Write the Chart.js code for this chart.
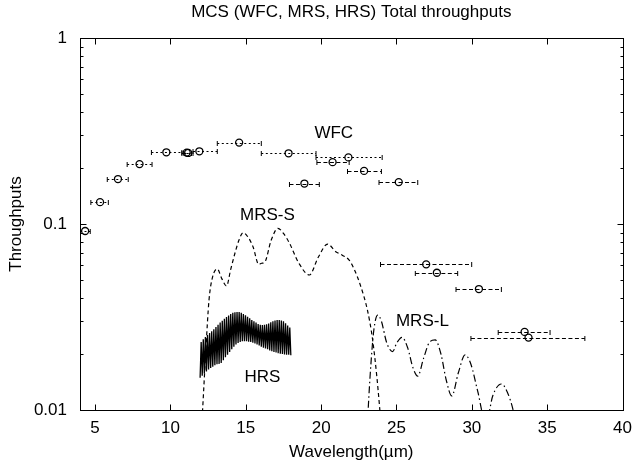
<!DOCTYPE html>
<html><head><meta charset="utf-8">
<script src="https://cdn.jsdelivr.net/npm/chart.js@4/dist/chart.umd.min.js"></script>
<style>html,body{margin:0;padding:0;background:#fff}canvas{display:block}</style>
</head><body>
<canvas id="c" width="640" height="467"></canvas>
<script>
// ---------- axis ticks ----------
const xTickValues = [5, 10, 15, 20, 25, 30, 35, 40];
const yMajorTicks = [0.01, 0.1, 1];
const yTickLabels = ['0.01', '0.1', '1'];
const yMinorTicks = [0.02,0.03,0.04,0.05,0.06,0.07,0.08,0.09,0.2,0.3,0.4,0.5,0.6,0.7,0.8,0.9];

// ---------- WFC (dotted error bars) ----------
const wfcDotWave = [4.34, 5.33, 6.52, 7.95, 9.73, 11.08, 11.18, 11.92, 14.56, 17.84, 21.81];
const wfcDotThru = [0.0917, 0.131, 0.1745, 0.210, 0.243, 0.242, 0.241, 0.246, 0.274, 0.240, 0.228];
const wfcDotLow  = [4.0, 4.72, 5.81, 7.13, 8.74, 10.76, 10.9, 11.5, 13.11, 16.03, 19.66];
const wfcDotHigh = [4.68, 5.88, 7.20, 8.78, 10.76, 11.4, 11.5, 13.11, 16.03, 19.66, 24.05];

// ---------- WFC (dashed error bars) ----------
const wfcDashWave = [20.76, 22.85, 25.15, 18.89, 26.97, 27.68, 30.47, 33.5, 33.76];
const wfcDashThru = [0.215, 0.193, 0.168, 0.165, 0.0607, 0.0547, 0.0447, 0.0263, 0.0245];
const wfcDashLow  = [19.72, 21.75, 23.84, 17.9, 23.94, 26.25, 28.95, 31.75, 29.94];
const wfcDashHigh = [21.86, 24.0, 26.41, 19.88, 29.99, 29.06, 31.96, 35.19, 37.5];

// ---------- MRS-S ----------
const mrsSWave = [12.05, 12.2, 12.35, 12.56, 12.8, 13.11, 13.4, 13.72, 14.0, 14.28, 14.55, 14.82, 15.15, 15.48, 15.86, 16.05, 16.25, 16.69, 17.13, 17.5, 17.9, 18.5, 19.22, 19.8, 20.43, 20.97, 21.4, 21.86, 22.2, 22.6, 23.07, 23.4, 23.7, 24.0];
const mrsSThru = [0.0075, 0.0125, 0.021, 0.039, 0.052, 0.0573, 0.051, 0.0464, 0.057, 0.0696, 0.082, 0.0898, 0.085, 0.0755, 0.0607, 0.0615, 0.0622, 0.082, 0.0948, 0.089, 0.0788, 0.062, 0.0532, 0.066, 0.078, 0.071, 0.068, 0.064, 0.057, 0.047, 0.0345, 0.0244, 0.015, 0.008];

// ---------- MRS-L ----------
const mrsLWave = [23.0, 23.12, 23.3, 23.5, 23.75, 24.0, 24.35, 24.75, 25.0, 25.37, 25.75, 26.1, 26.41, 26.8, 27.2, 27.57, 27.95, 28.3, 28.67, 29.1, 29.55, 29.95, 30.4, 30.93, 31.4, 31.96, 32.35, 32.75, 32.9];
const mrsLThru = [0.006, 0.0100, 0.0175, 0.027, 0.0324, 0.030, 0.023, 0.0206, 0.0228, 0.0246, 0.0215, 0.0168, 0.0152, 0.019, 0.0232, 0.0238, 0.020, 0.0145, 0.0119, 0.0158, 0.0198, 0.0175, 0.0125, 0.0085, 0.012, 0.0138, 0.0125, 0.0099, 0.0085];

// ---------- HRS (fringed) ----------
const hrsWave = [11.97,12.04,12.11,12.18,12.25,12.32,12.39,12.46,12.53,12.60,12.67,12.74,12.81,12.88,12.95,13.02,13.09,13.16,13.23,13.30,13.37,13.44,13.51,13.58,13.65,13.72,13.79,13.86,13.93,14.00,14.07,14.14,14.21,14.28,14.35,14.42,14.49,14.56,14.63,14.70,14.77,14.84,14.91,14.98,15.05,15.12,15.19,15.26,15.33,15.40,15.47,15.54,15.61,15.68,15.75,15.82,15.89,15.96,16.03,16.10,16.17,16.24,16.31,16.38,16.45,16.52,16.59,16.66,16.73,16.80,16.87,16.94,17.01,17.08,17.15,17.22,17.29,17.36,17.43,17.50,17.57,17.64,17.71,17.78,17.85,17.92,17.99];
const hrsThru = [0.0149,0.0232,0.0153,0.0240,0.0157,0.0247,0.0161,0.0253,0.0165,0.0259,0.0168,0.0265,0.0171,0.0272,0.0174,0.0279,0.0176,0.0287,0.0177,0.0295,0.0179,0.0302,0.0185,0.0309,0.0192,0.0316,0.0198,0.0322,0.0205,0.0328,0.0212,0.0333,0.0219,0.0335,0.0225,0.0336,0.0229,0.0336,0.0232,0.0333,0.0234,0.0328,0.0234,0.0323,0.0234,0.0317,0.0233,0.0311,0.0232,0.0305,0.0230,0.0300,0.0228,0.0295,0.0225,0.0290,0.0222,0.0287,0.0219,0.0286,0.0216,0.0287,0.0214,0.0289,0.0212,0.0292,0.0209,0.0296,0.0207,0.0300,0.0205,0.0303,0.0204,0.0305,0.0202,0.0305,0.0201,0.0303,0.0200,0.0300,0.0199,0.0293,0.0198,0.0285,0.0198,0.0278,0.0197];

// ---------- curve labels ----------
const curveLabelText = ['WFC', 'MRS-S', 'MRS-L', 'HRS'];
const curveLabelWave = [20.84, 16.44, 26.72, 16.11];
const curveLabelThru = [0.307, 0.112, 0.0301, 0.0150];

const FONT = "'Liberation Sans', Arial, Helvetica, sans-serif";
const FS = 17;
Chart.defaults.font.family = FONT;
Chart.defaults.color = '#000';

const pts = (xs, ys) => xs.map((x, i) => ({x: x, y: ys[i]}));
const bars = (xs, ys, lo, hi) => xs.map((x, i) => ({x: x, y: ys[i], xMin: lo[i], xMax: hi[i]}));

const errorBarPlugin = {
  id: 'errorBars',
  beforeDatasetsDraw(chart) {
    const ctx = chart.ctx, xs = chart.scales.x, ys = chart.scales.y, a = chart.chartArea;
    ctx.save();
    ctx.beginPath(); ctx.rect(a.left, a.top, a.right - a.left, a.bottom - a.top); ctx.clip();
    chart.data.datasets.forEach(ds => {
      if (!ds.errorDash) return;
      ds.data.forEach(p => {
        const y = Math.round(ys.getPixelForValue(p.y)) + 0.5;
        const x0 = xs.getPixelForValue(p.xMin), x1 = xs.getPixelForValue(p.xMax);
        ctx.strokeStyle = '#000'; ctx.lineWidth = 1;
        ctx.setLineDash(ds.errorDash);
        ctx.beginPath(); ctx.moveTo(x0, y); ctx.lineTo(x1, y); ctx.stroke();
        ctx.setLineDash([]);
        ctx.beginPath();
        ctx.moveTo(x0, y - 2.5); ctx.lineTo(x0, y + 2.5);
        ctx.moveTo(x1, y - 2.5); ctx.lineTo(x1, y + 2.5);
        ctx.stroke();
      });
    });
    ctx.restore();
  }
};

const framePlugin = {
  id: 'frame',
  afterDatasetsDraw(chart) {
    const ctx = chart.ctx, xs = chart.scales.x, ys = chart.scales.y, a = chart.chartArea;
    ctx.save();
    ctx.strokeStyle = '#000'; ctx.lineWidth = 1; ctx.setLineDash([]);
    const L = Math.round(a.left) + 0.5, R = Math.round(a.right) + 0.5;
    const T = Math.round(a.top) + 0.5, B = Math.round(a.bottom) + 0.5;
    ctx.beginPath();
    xTickValues.forEach(v => {
      const px = Math.round(xs.getPixelForValue(v)) + 0.5;
      ctx.moveTo(px, B); ctx.lineTo(px, B - 6);
      ctx.moveTo(px, T); ctx.lineTo(px, T + 6);
    });
    yMajorTicks.forEach(v => {
      const py = Math.round(ys.getPixelForValue(v)) + 0.5;
      ctx.moveTo(L, py); ctx.lineTo(L + 6, py);
      ctx.moveTo(R, py); ctx.lineTo(R - 6, py);
    });
    yMinorTicks.forEach(v => {
      const py = Math.round(ys.getPixelForValue(v)) + 0.5;
      ctx.moveTo(L, py); ctx.lineTo(L + 3, py);
      ctx.moveTo(R, py); ctx.lineTo(R - 3, py);
    });
    ctx.stroke();
    ctx.strokeRect(L, T, R - L, B - T);
    ctx.fillStyle = '#000';
    ctx.font = FS + 'px ' + FONT;
    ctx.textAlign = 'center'; ctx.textBaseline = 'middle';
    curveLabelText.forEach((t, i) => {
      ctx.fillText(t, xs.getPixelForValue(curveLabelWave[i]), ys.getPixelForValue(curveLabelThru[i]));
    });
    ctx.restore();
  }
};

new Chart(document.getElementById('c'), {
  type: 'line',
  data: {
    datasets: [
      { label: 'HRS', data: pts(hrsWave, hrsThru), borderColor: '#000', borderWidth: 1.3, pointRadius: 0, tension: 0 },
      { label: 'MRS-S', data: pts(mrsSWave, mrsSThru), borderColor: '#000', borderWidth: 1.2, borderDash: [4, 3], pointRadius: 0, cubicInterpolationMode: 'monotone' },
      { label: 'MRS-L', data: pts(mrsLWave, mrsLThru), borderColor: '#000', borderWidth: 1.2, borderDash: [7, 3, 1.5, 3], pointRadius: 0, cubicInterpolationMode: 'monotone' },
      { label: 'WFC', data: bars(wfcDotWave, wfcDotThru, wfcDotLow, wfcDotHigh), showLine: false, errorDash: [2, 2.5],
        pointRadius: 3.5, pointBorderWidth: 1.3, pointBorderColor: '#000', pointBackgroundColor: 'rgba(0,0,0,0)', borderColor: '#000' },
      { label: 'WFC2', data: bars(wfcDashWave, wfcDashThru, wfcDashLow, wfcDashHigh), showLine: false, errorDash: [4, 2.5],
        pointRadius: 3.5, pointBorderWidth: 1.3, pointBorderColor: '#000', pointBackgroundColor: 'rgba(0,0,0,0)', borderColor: '#000' }
    ]
  },
  options: {
    responsive: false,
    animation: false,
    devicePixelRatio: 1,
    layout: { padding: { left: 0, right: 13, top: 0, bottom: 0 } },
    plugins: {
      legend: { display: false },
      tooltip: { enabled: false },
      title: { display: true, text: 'MCS (WFC, MRS, HRS) Total throughputs', fullSize: false,
               font: { size: FS, weight: 'normal' }, color: '#000', padding: { top: 2, bottom: 15.6 } }
    },
    scales: {
      x: {
        type: 'linear', min: 4, max: 40,
        afterBuildTicks: s => { s.ticks = xTickValues.map(v => ({value: v})); },
        afterFit: s => { s.height = 57; },
        grid: { display: false, drawTicks: false },
        border: { display: false },
        ticks: { font: { size: FS }, color: '#000', padding: 8, maxRotation: 0, autoSkip: false },
        title: { display: true, text: 'Wavelength(\u00b5m)', font: { size: FS }, color: '#000', padding: { top: 0, bottom: 4 } }
      },
      y: {
        type: 'logarithmic', min: 0.01, max: 1,
        afterBuildTicks: s => { s.ticks = yMajorTicks.map(v => ({value: v})); },
        afterFit: s => { s.width = 80; },
        grid: { display: false, drawTicks: false },
        border: { display: false },
        ticks: { font: { size: FS }, color: '#000', padding: 13, autoSkip: false,
                 callback: (v) => { const i = yMajorTicks.indexOf(v); return i >= 0 ? yTickLabels[i] : ''; } },
        title: { display: true, text: 'Throughputs', font: { size: FS }, color: '#000', padding: { top: 6, bottom: 0 } }
      }
    }
  },
  plugins: [errorBarPlugin, framePlugin]
});
</script>
</body></html>
